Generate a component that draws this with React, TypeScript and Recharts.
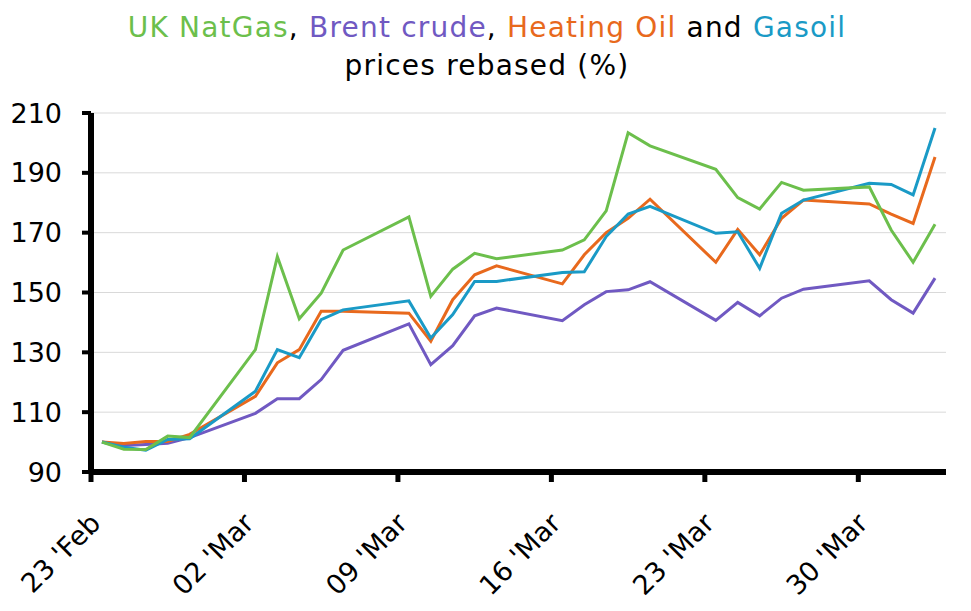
import { LineChart, Line, XAxis, YAxis, CartesianGrid } from 'recharts'

// trading days (2026), axis starts on 23 Feb
const startDate = '2026-02-23'
const dates = [
  '2026-02-23', '2026-02-24', '2026-02-25', '2026-02-26', '2026-02-27',
  '2026-03-02', '2026-03-03', '2026-03-04', '2026-03-05', '2026-03-06',
  '2026-03-09', '2026-03-10', '2026-03-11', '2026-03-12', '2026-03-13',
  '2026-03-16', '2026-03-17', '2026-03-18', '2026-03-19', '2026-03-20',
  '2026-03-23', '2026-03-24', '2026-03-25', '2026-03-26', '2026-03-27',
  '2026-03-30', '2026-03-31', '2026-04-01', '2026-04-02',
]

const natGas = [
  100, 97.6, 97.5, 102, 101.5,
  130.9, 162, 141.2, 149.8, 164.2,
  175.3, 148.7, 157.8, 163.1, 161.3,
  164.2, 167.6, 177.3, 203.4, 199,
  191.2, 181.7, 177.9, 186.8, 184.2,
  185.3, 170.9, 160.1, 172.8,
]
const brent = [
  100, 98.9, 99.2, 99.6, 101.5,
  109.6, 114.5, 114.5, 120.9, 130.7,
  139.5, 125.9, 132.2, 142.2, 144.8,
  140.6, 145.9, 150.3, 150.9, 153.6,
  140.7, 146.7, 142.2, 148.1, 151.1,
  153.9, 147.6, 143.1, 154.8,
]
const heatingOil = [
  100, 99.5, 100.2, 100.2, 102.6,
  115.3, 126.5, 130.9, 143.7, 143.7,
  143.1, 133.7, 147.6, 155.9, 158.9,
  152.9, 162.6, 170, 174.8, 181.2,
  160.1, 171.1, 162.6, 174.8, 180.9,
  179.6, 176.2, 173.1, 195.3,
]
const gasoil = [
  100, 98.3, 97.3, 100.9, 101.1,
  117, 130.9, 128.2, 140.9, 144.2,
  147.2, 134.8, 142.6, 153.7, 153.7,
  156.7, 156.9, 168.7, 176.2, 178.8,
  169.8, 170.3, 158.1, 176.5, 180.9,
  186.5, 186.1, 182.6, 205,
]

const tickDates = ['2026-02-23', '2026-03-02', '2026-03-09', '2026-03-16', '2026-03-23', '2026-03-30']
const yTicks = [90, 110, 130, 150, 170, 190, 210]
const months = ['Jan', 'Feb', 'Mar', 'Apr', 'May', 'Jun', 'Jul', 'Aug', 'Sep', 'Oct', 'Nov', 'Dec']

const DAY = 86400000
const dayOffset = (d: string) => Math.round((Date.parse(d) - Date.parse(startDate)) / DAY)

// each day is a slot; points sit in the middle of it
const data = dates.map((d, i) => ({
  x: dayOffset(d) + 0.5,
  natGas: natGas[i],
  brent: brent[i],
  heatingOil: heatingOil[i],
  gasoil: gasoil[i],
}))

const xTicks = tickDates.map(dayOffset)
const tickLabel = (v: number) => {
  const d = new Date(Date.parse(startDate) + v * DAY)
  const dd = String(d.getUTCDate()).padStart(2, '0')
  return `${dd} '${months[d.getUTCMonth()]}`
}

const FONT = '"DejaVu Sans", sans-serif'
const GREEN = '#6cbf4c'
const PURPLE = '#7059c2'
const ORANGE = '#e8691d'
const BLUE = '#1a9ac6'

const DateTick = ({ x, y, payload }: any) => (
  <g transform={`translate(${x + 11},${y + 41})`}>
    <text transform="rotate(-45)" textAnchor="end" fontSize={27} fontFamily={FONT} fill="#000">
      {tickLabel(payload.value)}
    </text>
  </g>
)

export default function App() {
  return (
    <div style={{ position: 'absolute', left: 0, top: 0, width: 971, height: 611, background: '#fff' }}>
      <LineChart width={971} height={611} data={data} margin={{ top: 113, right: 25, bottom: 0, left: 0 }}>
        <CartesianGrid vertical={false} stroke="#d9d9d9" strokeWidth={1} />
        <XAxis
          dataKey="x"
          type="number"
          domain={[0, 39]}
          ticks={xTicks}
          interval={0}
          height={139}
          tickSize={10}
          axisLine={{ stroke: '#000', strokeWidth: 6 }}
          tickLine={{ stroke: '#000', strokeWidth: 5 }}
          tick={<DateTick />}
        />
        <YAxis
          domain={[90, 210]}
          ticks={yTicks}
          interval={0}
          width={91}
          tickSize={9}
          tickMargin={20}
          axisLine={{ stroke: '#000', strokeWidth: 6 }}
          tickLine={{ stroke: '#000', strokeWidth: 4 }}
          tick={{ fontSize: 27, fontFamily: FONT, fill: '#000' }}
        />
        <Line type="linear" dataKey="brent" stroke={PURPLE} strokeWidth={3} dot={false} isAnimationActive={false} />
        <Line type="linear" dataKey="heatingOil" stroke={ORANGE} strokeWidth={3} dot={false} isAnimationActive={false} />
        <Line type="linear" dataKey="gasoil" stroke={BLUE} strokeWidth={3} dot={false} isAnimationActive={false} />
        <Line type="linear" dataKey="natGas" stroke={GREEN} strokeWidth={3} dot={false} isAnimationActive={false} />
      </LineChart>
      <svg width={971} height={100} style={{ position: 'absolute', left: 0, top: 0 }}>
        <text x={487} y={37} textAnchor="middle" fontSize={28} letterSpacing={1.2} fontFamily={FONT} fill="#000">
          <tspan fill={GREEN}>UK NatGas</tspan>
          <tspan>, </tspan>
          <tspan fill={PURPLE}>Brent crude</tspan>
          <tspan>, </tspan>
          <tspan fill={ORANGE}>Heating Oil</tspan>
          <tspan> and </tspan>
          <tspan fill={BLUE}>Gasoil</tspan>
        </text>
        <text x={487} y={75} textAnchor="middle" fontSize={28} letterSpacing={1.2} fontFamily={FONT} fill="#000">
          prices rebased (%)
        </text>
      </svg>
    </div>
  )
}
